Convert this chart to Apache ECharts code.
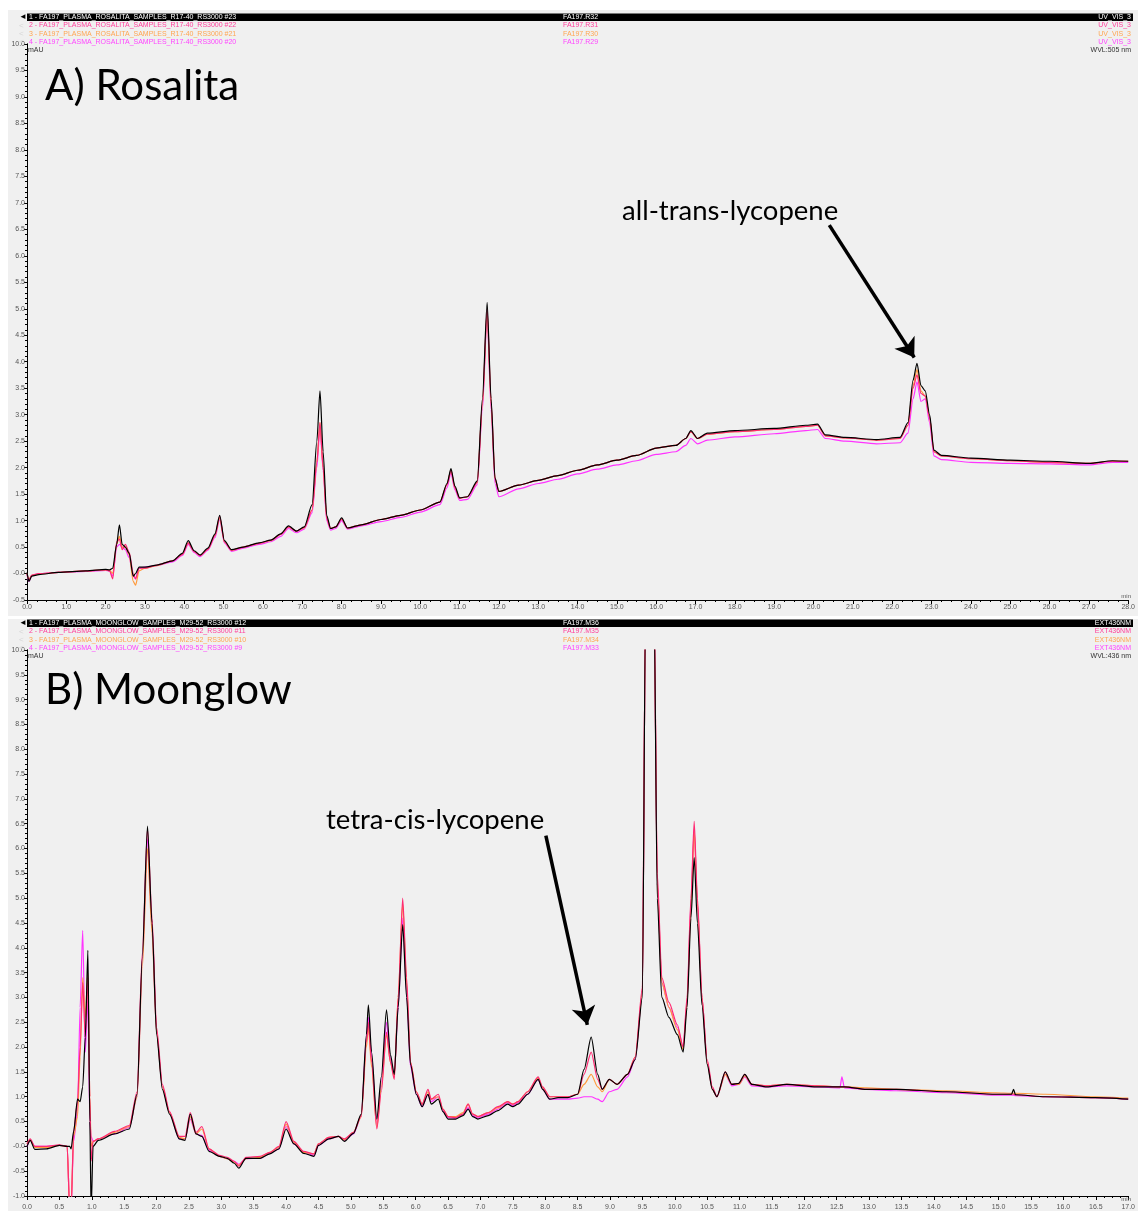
<!DOCTYPE html>
<html>
<head>
<meta charset="utf-8">
<script src="https://cdn.jsdelivr.net/npm/echarts@6/dist/echarts.min.js"></script>
<style>
  html, body { margin: 0; padding: 0; background: #fff; }
  #main { width: 1138px; height: 1211px; }
</style>
</head>
<body>
<div id="main"></div>
<script>
// ---- A) Rosalita (min, mAU) ----
const rosTime = [0.00, 0.05, 0.12, 0.3, 0.8, 1.5, 2.0, 2.1, 2.18, 2.28, 2.35, 2.42, 2.5, 2.6, 2.7, 2.76, 2.85, 3.0, 3.3, 3.7,
  3.95, 4.1, 4.25, 4.4, 4.6, 4.78, 4.9, 5.02, 5.2, 5.5, 5.9, 6.2, 6.45, 6.65, 6.85, 7.05, 7.25, 7.37, 7.45, 7.53,
  7.62, 7.72, 7.85, 8.0, 8.15, 8.5, 9.0, 9.5, 10.0, 10.5, 10.68, 10.78, 10.88, 11.0, 11.2, 11.45, 11.58, 11.7, 11.8, 11.9,
  12.0, 12.5, 13.0, 13.5, 14.0, 14.5, 15.0, 15.5, 16.0, 16.5, 16.75, 16.88, 17.05, 17.3, 18.0, 19.0, 19.8, 20.1, 20.3, 20.8,
  21.6, 22.2, 22.4, 22.53, 22.63, 22.73, 22.84, 22.95, 23.06, 23.25, 24.0, 25.0, 26.0, 27.0, 27.6, 28.0];
const rosS1 = [0.02, -0.15, -0.05, -0.02, 0.02, 0.05, 0.08, 0.07, 0.1, 0.55, 0.92, 0.55, 0.5, 0.38, -0.05, 0.0, 0.12, 0.12, 0.16, 0.24,
  0.38, 0.62, 0.43, 0.35, 0.48, 0.75, 1.1, 0.62, 0.45, 0.5, 0.58, 0.63, 0.75, 0.9, 0.8, 0.88, 1.3, 2.5, 3.45, 2.3,
  1.1, 0.85, 0.88, 1.05, 0.86, 0.92, 1.02, 1.1, 1.2, 1.35, 1.7, 1.98, 1.65, 1.43, 1.45, 1.75, 3.3, 5.12, 3.3, 1.8,
  1.55, 1.67, 1.76, 1.85, 1.95, 2.05, 2.14, 2.23, 2.37, 2.42, 2.55, 2.7, 2.55, 2.65, 2.7, 2.74, 2.8, 2.82, 2.62, 2.57,
  2.53, 2.57, 2.85, 3.65, 3.97, 3.55, 3.45, 3.0, 2.33, 2.23, 2.18, 2.14, 2.12, 2.08, 2.13, 2.12];
const rosS2 = [0.0, -0.12, -0.03, 0.0, 0.02, 0.05, 0.07, 0.05, -0.1, 0.6, 0.65, 0.45, 0.55, 0.4, 0.0, -0.1, 0.1, 0.1, 0.16, 0.24,
  0.36, 0.58, 0.42, 0.34, 0.46, 0.72, 1.08, 0.6, 0.44, 0.5, 0.57, 0.63, 0.74, 0.88, 0.8, 0.87, 1.2, 2.1, 2.85, 2.0,
  1.05, 0.85, 0.88, 1.03, 0.86, 0.92, 1.02, 1.1, 1.2, 1.35, 1.68, 1.95, 1.62, 1.42, 1.45, 1.72, 3.2, 5.0, 3.25, 1.8,
  1.55, 1.67, 1.76, 1.85, 1.95, 2.05, 2.14, 2.23, 2.37, 2.42, 2.55, 2.68, 2.55, 2.63, 2.68, 2.72, 2.78, 2.8, 2.6, 2.56,
  2.52, 2.55, 2.8, 3.5, 3.75, 3.4, 3.35, 2.95, 2.3, 2.22, 2.17, 2.13, 2.1, 2.08, 2.12, 2.12];
const rosS3 = [0.0, -0.12, -0.04, -0.01, 0.02, 0.05, 0.07, 0.06, 0.0, 0.55, 0.7, 0.5, 0.5, 0.35, -0.15, -0.22, 0.05, 0.1, 0.15, 0.24,
  0.36, 0.58, 0.42, 0.34, 0.46, 0.72, 1.05, 0.6, 0.44, 0.5, 0.57, 0.62, 0.74, 0.88, 0.8, 0.86, 1.2, 2.1, 2.85, 2.0,
  1.05, 0.85, 0.88, 1.03, 0.86, 0.92, 1.02, 1.1, 1.2, 1.35, 1.68, 1.95, 1.62, 1.42, 1.45, 1.72, 3.2, 4.95, 3.2, 1.78,
  1.55, 1.67, 1.76, 1.85, 1.95, 2.05, 2.14, 2.23, 2.37, 2.42, 2.55, 2.68, 2.55, 2.63, 2.68, 2.72, 2.78, 2.8, 2.6, 2.56,
  2.52, 2.55, 2.8, 3.55, 3.85, 3.45, 3.35, 2.95, 2.3, 2.22, 2.17, 2.13, 2.1, 2.08, 2.12, 2.12];
const rosS4 = [-0.02, -0.15, -0.04, 0.0, 0.02, 0.04, 0.06, 0.05, -0.05, 0.5, 0.55, 0.5, 0.45, 0.3, -0.05, -0.1, 0.1, 0.12, 0.15, 0.22,
  0.34, 0.55, 0.4, 0.32, 0.44, 0.68, 1.02, 0.58, 0.42, 0.48, 0.55, 0.6, 0.7, 0.85, 0.77, 0.84, 1.15, 2.0, 2.75, 1.95,
  1.0, 0.82, 0.85, 1.0, 0.84, 0.9, 0.98, 1.06, 1.16, 1.3, 1.62, 1.9, 1.58, 1.38, 1.4, 1.68, 3.1, 4.9, 3.1, 1.7,
  1.45, 1.6, 1.7, 1.78, 1.88, 1.97, 2.05, 2.13, 2.25, 2.3, 2.42, 2.55, 2.45, 2.52, 2.58, 2.64, 2.7, 2.72, 2.55, 2.5,
  2.45, 2.47, 2.65, 3.3, 3.62, 3.25, 3.3, 2.85, 2.22, 2.15, 2.1, 2.08, 2.07, 2.05, 2.1, 2.1];

// ---- B) Moonglow (min, mAU) ----
const moonTime = [0.00, 0.05, 0.12, 0.3, 0.5, 0.62, 0.66, 0.68, 0.72, 0.78, 0.82, 0.86, 0.9, 0.94, 0.97, 0.99, 1.02, 1.1, 1.35, 1.58,
  1.7, 1.78, 1.86, 1.93, 2.0, 2.09, 2.2, 2.35, 2.44, 2.52, 2.61, 2.7, 2.81, 2.97, 3.09, 3.2, 3.27, 3.38, 3.6, 3.75,
  3.89, 4.0, 4.12, 4.27, 4.43, 4.5, 4.66, 4.81, 4.9, 5.04, 5.16, 5.24, 5.27, 5.32, 5.4, 5.47, 5.55, 5.61, 5.67, 5.73,
  5.8, 5.86, 5.92, 6.01, 6.1, 6.19, 6.24, 6.35, 6.42, 6.5, 6.62, 6.73, 6.81, 6.88, 6.96, 7.12, 7.27, 7.42, 7.5, 7.58,
  7.73, 7.89, 7.96, 8.07, 8.2, 8.35, 8.5, 8.6, 8.71, 8.81, 8.88, 8.99, 9.11, 9.27, 9.39, 9.5, 9.55, 9.68, 9.73, 9.8,
  9.91, 10.04, 10.13, 10.19, 10.25, 10.3, 10.35, 10.42, 10.5, 10.58, 10.65, 10.78, 10.88, 10.99, 11.08, 11.19, 11.42, 11.73, 12.19, 12.55,
  12.58, 12.62, 12.96, 13.42, 14.19, 14.96, 15.2, 15.23, 15.26, 15.72, 16.49, 17.0];
const moonS1 = [0.0, 0.12, -0.06, -0.05, 0.02, 0.0, 0.0, -0.05, 0.3, 0.95, 0.9, 1.2, 2.2, 3.95, 0.5, -1.3, 0.0, 0.12, 0.25, 0.35,
  1.05, 3.8, 6.45, 4.5, 2.25, 1.15, 0.65, 0.15, 0.12, 0.65, 0.25, 0.2, -0.1, -0.2, -0.24, -0.34, -0.44, -0.24, -0.24, -0.15,
  -0.05, 0.35, 0.05, -0.14, -0.2, 0.02, 0.15, 0.2, 0.1, 0.26, 0.65, 2.25, 2.85, 1.9, 0.55, 1.4, 2.75, 1.85, 1.45, 2.8,
  4.47, 3.0, 1.65, 1.05, 0.8, 1.05, 0.85, 0.95, 0.7, 0.55, 0.55, 0.62, 0.75, 0.6, 0.55, 0.62, 0.72, 0.85, 0.8, 0.85,
  1.05, 1.35, 1.15, 0.95, 0.98, 0.98, 1.05, 1.55, 2.2, 1.45, 1.15, 1.35, 1.25, 1.45, 1.75, 3.0, 11, 11, 5.0, 3.0,
  2.6, 2.25, 1.9, 2.8, 4.6, 5.82, 4.5, 2.85, 1.65, 1.15, 1.0, 1.5, 1.25, 1.27, 1.45, 1.25, 1.2, 1.25, 1.2, 1.2,
  1.2, 1.2, 1.15, 1.15, 1.1, 1.05, 1.05, 1.15, 1.04, 1.0, 0.98, 0.95];
const moonS2 = [0.05, 0.15, 0.0, 0.0, 0.03, 0.0, -1.3, -1.3, 0.3, 0.9, 2.0, 3.3, 2.2, 3.4, 1.0, -0.3, 0.1, 0.15, 0.3, 0.42,
  1.1, 3.9, 6.4, 4.6, 2.4, 1.25, 0.7, 0.2, 0.2, 0.68, 0.28, 0.4, -0.05, -0.18, -0.22, -0.3, -0.4, -0.22, -0.2, -0.12,
  0.0, 0.5, 0.1, -0.1, -0.15, 0.05, 0.18, 0.2, 0.15, 0.28, 0.62, 2.1, 2.5, 1.7, 0.35, 1.1, 2.3, 1.7, 1.35, 3.0,
  5.0, 3.4, 1.7, 1.1, 0.85, 1.15, 0.95, 1.05, 0.75, 0.6, 0.58, 0.65, 0.85, 0.65, 0.6, 0.68, 0.8, 0.9, 0.85, 0.9,
  1.1, 1.4, 1.2, 1.0, 1.0, 1.0, 1.05, 1.45, 1.9, 1.35, 1.15, 1.35, 1.25, 1.45, 1.8, 3.2, 11, 11, 5.5, 3.4,
  2.9, 2.45, 2.0, 3.0, 5.0, 6.55, 5.0, 3.0, 1.75, 1.2, 1.0, 1.5, 1.25, 1.27, 1.45, 1.25, 1.22, 1.25, 1.22, 1.2,
  1.2, 1.2, 1.15, 1.15, 1.1, 1.05, 1.05, 1.05, 1.04, 1.0, 0.98, 0.95];
const moonS3 = [0.05, 0.12, -0.02, -0.02, 0.02, 0.0, -1.3, -1.2, 0.2, 0.6, 1.8, 3.4, 2.6, 3.5, 1.0, 0.0, 0.1, 0.15, 0.28, 0.4,
  1.0, 3.6, 6.0, 4.3, 2.3, 1.2, 0.68, 0.18, 0.15, 0.6, 0.25, 0.35, -0.05, -0.2, -0.25, -0.32, -0.38, -0.25, -0.22, -0.12,
  -0.02, 0.45, 0.08, -0.12, -0.15, 0.05, 0.18, 0.2, 0.13, 0.28, 0.6, 2.0, 2.4, 1.6, 0.38, 1.2, 2.25, 1.7, 1.4, 3.0,
  4.9, 3.3, 1.7, 1.1, 0.85, 1.1, 0.95, 1.0, 0.75, 0.6, 0.6, 0.68, 0.85, 0.65, 0.6, 0.68, 0.78, 0.9, 0.85, 0.9,
  1.1, 1.38, 1.18, 1.0, 1.0, 1.0, 1.05, 1.25, 1.45, 1.2, 1.1, 1.35, 1.25, 1.45, 1.8, 3.1, 11, 11, 5.3, 3.3,
  2.8, 2.35, 1.95, 2.9, 4.8, 6.35, 4.9, 3.0, 1.7, 1.15, 1.0, 1.45, 1.25, 1.25, 1.42, 1.25, 1.22, 1.25, 1.22, 1.2,
  1.2, 1.2, 1.18, 1.15, 1.12, 1.08, 1.07, 1.07, 1.07, 1.05, 1.0, 0.97];
const moonS4 = [0.0, 0.12, 0.0, 0.0, 0.02, 0.0, -1.3, -1.3, 0.1, 0.7, 2.8, 4.35, 1.9, 3.0, 0.5, 0.2, 0.1, 0.15, 0.25, 0.38,
  1.0, 3.7, 6.2, 4.4, 2.3, 1.2, 0.68, 0.15, 0.15, 0.55, 0.25, 0.22, -0.08, -0.2, -0.25, -0.3, -0.36, -0.25, -0.24, -0.14,
  -0.05, 0.4, 0.05, -0.12, -0.18, 0.02, 0.15, 0.2, 0.12, 0.25, 0.6, 2.2, 2.6, 1.8, 0.45, 1.3, 2.5, 1.75, 1.45, 2.8,
  4.6, 3.1, 1.6, 1.05, 0.8, 1.05, 0.9, 1.0, 0.72, 0.58, 0.57, 0.65, 0.78, 0.62, 0.57, 0.65, 0.75, 0.88, 0.82, 0.88,
  1.05, 1.35, 1.15, 0.95, 0.95, 0.95, 0.97, 1.0, 1.0, 0.95, 0.9, 1.1, 1.15, 1.4, 1.75, 3.1, 11, 11, 5.3, 3.3,
  2.8, 2.4, 2.0, 2.9, 4.9, 6.4, 4.9, 3.0, 1.7, 1.15, 1.0, 1.45, 1.22, 1.25, 1.4, 1.22, 1.2, 1.22, 1.2, 1.18,
  1.4, 1.18, 1.15, 1.12, 1.08, 1.03, 1.03, 1.03, 1.02, 1.0, 0.98, 0.95];

// trace colours and header texts
const traceColors = ['#000000', '#ff2a72', '#ff9a3c', '#ff33ff'];
const headerColors = ['#ffffff', '#ff3d9a', '#ffa652', '#ff44ff'];
const rosNames = ['1 - FA197_PLASMA_ROSALITA_SAMPLES_R17-40_RS3000 #23', '2 - FA197_PLASMA_ROSALITA_SAMPLES_R17-40_RS3000 #22',
  '3 - FA197_PLASMA_ROSALITA_SAMPLES_R17-40_RS3000 #21', '4 - FA197_PLASMA_ROSALITA_SAMPLES_R17-40_RS3000 #20'];
const rosIds = ['FA197.R32', 'FA197.R31', 'FA197.R30', 'FA197.R29'];
const rosChannel = ['UV_VIS_3', 'UV_VIS_3', 'UV_VIS_3', 'UV_VIS_3'];
const moonNames = ['1 - FA197_PLASMA_MOONGLOW_SAMPLES_M29-52_RS3000 #12', '2 - FA197_PLASMA_MOONGLOW_SAMPLES_M29-52_RS3000 #11',
  '3 - FA197_PLASMA_MOONGLOW_SAMPLES_M29-52_RS3000 #10', '4 - FA197_PLASMA_MOONGLOW_SAMPLES_M29-52_RS3000 #9'];
const moonIds = ['FA197.M36', 'FA197.M35', 'FA197.M34', 'FA197.M33'];
const moonChannel = ['EXT436NM', 'EXT436NM', 'EXT436NM', 'EXT436NM'];

const pairs = (xs, ys) => xs.map((x, i) => [x, ys[i]]);

function xAxisFor(grid, max, step, margin) {
  return {
    type: 'value', gridIndex: grid, min: 0, max: max, interval: step,
    axisLine: { show: true, onZero: false, lineStyle: { color: '#000', width: 1 } },
    axisTick: { show: true, length: 4, lineStyle: { color: '#000' } },
    minorTick: { show: true, splitNumber: 4, length: 2, lineStyle: { color: '#000' } },
    axisLabel: { fontSize: 7, color: '#555', margin: margin, fontFamily: 'Liberation Sans', formatter: v => v.toFixed(1),
      showMinLabel: true, showMaxLabel: true },
    splitLine: { show: false }
  };
}

function yAxisFor(grid, min) {
  return {
    type: 'value', gridIndex: grid, min: min, max: 10, interval: 0.5,
    axisLine: { show: true, onZero: false, lineStyle: { color: '#000', width: 1 } },
    axisTick: { show: true, length: 3, lineStyle: { color: '#000' } },
    minorTick: { show: true, splitNumber: 5, length: 2, lineStyle: { color: '#000' } },
    axisLabel: { fontSize: 7, color: '#555', margin: 2, fontFamily: 'Liberation Sans',
      formatter: v => (v === 0 ? '-0.0' : v.toFixed(1)) },
    splitLine: { show: false }
  };
}

// plain right border of each plot
function rightBorder(grid, min) {
  return {
    type: 'value', gridIndex: grid, position: 'right', min: min, max: 10,
    axisLine: { show: true, lineStyle: { color: '#000', width: 1 } },
    axisTick: { show: false }, axisLabel: { show: false }, splitLine: { show: false }
  };
}

function traces(values, times, xi, yi, arrow) {
  // draw 4 first, black (1) last so it sits on top
  const out = [];
  for (let k = values.length - 1; k >= 0; k--) {
    const s = {
      type: 'line', xAxisIndex: xi, yAxisIndex: yi,
      data: pairs(times, values[k]),
      showSymbol: false, smooth: 0.25, smoothMonotone: 'x',
      lineStyle: { color: traceColors[k], width: 1.2 },
      itemStyle: { color: traceColors[k] },
      z: 2 + (values.length - k)
    };
    if (k === 0) {
      s.markLine = {
        silent: true, symbol: ['none', 'arrow'], symbolSize: 18,
        lineStyle: { color: '#000', width: 3.5, type: 'solid' },
        itemStyle: { color: '#000' },
        label: { show: false },
        data: [[{ coord: arrow[0] }, { coord: arrow[1] }]]
      };
    }
    out.push(s);
  }
  return out;
}

function header(top, names, ids, channels, wvl) {
  const els = [
    { type: 'rect', shape: { x: 27, y: top - 3.5, width: 1106, height: 7.5 }, style: { fill: '#000' }, z: 5 },
    { type: 'text', x: 19, y: top, style: { text: '◄', fill: '#000', fontSize: 8, verticalAlign: 'middle' }, z: 6 }
  ];
  const rowGap = 8.4;
  for (let i = 0; i < 4; i++) {
    const y = top + i * rowGap;
    const base = { fontSize: 7, fontFamily: 'Liberation Sans', fill: headerColors[i], verticalAlign: 'middle' };
    if (i > 0) els.push({ type: 'text', x: 19, y: y, style: { text: '<', fill: '#d6d6d6', fontSize: 8, verticalAlign: 'middle' }, z: 6 });
    els.push({ type: 'text', x: 29, y: y, style: Object.assign({ text: names[i] }, base), z: 6 });
    els.push({ type: 'text', x: 563, y: y, style: Object.assign({ text: ids[i] }, base), z: 6 });
    els.push({ type: 'text', x: 1131, y: y, style: Object.assign({ text: channels[i], align: 'right' }, base), z: 6 });
  }
  const y5 = top + 4 * rowGap - 1;
  els.push({ type: 'text', x: 28, y: y5, style: { text: 'mAU', fontSize: 7, fontFamily: 'Liberation Sans', fill: '#333', verticalAlign: 'middle' }, z: 6 });
  els.push({ type: 'text', x: 1131, y: y5, style: { text: wvl, fontSize: 7, fontFamily: 'Liberation Sans', fill: '#333', align: 'right', verticalAlign: 'middle' }, z: 6 });
  return els;
}

const chart = echarts.init(document.getElementById('main'), null, { renderer: 'canvas' });

const option = {
  backgroundColor: '#ffffff',
  animation: false,
  grid: [
    { left: 27, top: 44, width: 1106, height: 556 },
    { left: 27, top: 650, width: 1106, height: 553 }
  ],
  xAxis: [xAxisFor(0, 28, 1, 4), xAxisFor(1, 17, 0.5, 8)],
  yAxis: [yAxisFor(0, -0.5), yAxisFor(1, -1), rightBorder(0, -0.5), rightBorder(1, -1)],
  series: [].concat(
    traces([rosS1, rosS2, rosS3, rosS4], rosTime, 0, 0, [[20.4, 6.58], [22.56, 4.08]]),
    traces([moonS1, moonS2, moonS3, moonS4], moonTime, 1, 1, [[8.01, 6.26], [8.65, 2.45]])
  ),
  graphic: [].concat(
    [
      { type: 'rect', shape: { x: 8, y: 10, width: 1130, height: 606 }, style: { fill: '#f0f0f0' }, z: -10 },
      { type: 'rect', shape: { x: 8, y: 619, width: 1130, height: 592 }, style: { fill: '#f0f0f0' }, z: -10 }
    ],
    header(17, rosNames, rosIds, rosChannel, 'WVL:505 nm'),
    header(623, moonNames, moonIds, moonChannel, 'WVL:436 nm'),
    [
      { type: 'text', x: 1131, y: 596, style: { text: 'min', fontSize: 6, fontFamily: 'Liberation Sans', fill: '#555', align: 'right', verticalAlign: 'middle' }, z: 6 },
      { type: 'text', x: 1131, y: 1199, style: { text: 'min', fontSize: 6, fontFamily: 'Liberation Sans', fill: '#555', align: 'right', verticalAlign: 'middle' }, z: 6 },
      { type: 'text', x: 45, y: 86, style: { text: 'A) Rosalita', fontSize: 42, fontFamily: 'Lato', fill: '#000', verticalAlign: 'middle' }, z: 6 },
      { type: 'text', x: 45, y: 690, style: { text: 'B) Moonglow', fontSize: 42, fontFamily: 'Lato', fill: '#000', verticalAlign: 'middle' }, z: 6 },
      { type: 'text', x: 622, y: 211, style: { text: 'all-trans-lycopene', fontSize: 27.5, fontFamily: 'Lato', fill: '#000', verticalAlign: 'middle' }, z: 6 },
      { type: 'text', x: 326, y: 820, style: { text: 'tetra-cis-lycopene', fontSize: 27.5, fontFamily: 'Lato', fill: '#000', verticalAlign: 'middle' }, z: 6 }
    ]
  )
};

chart.setOption(option);
</script>
</body>
</html>
